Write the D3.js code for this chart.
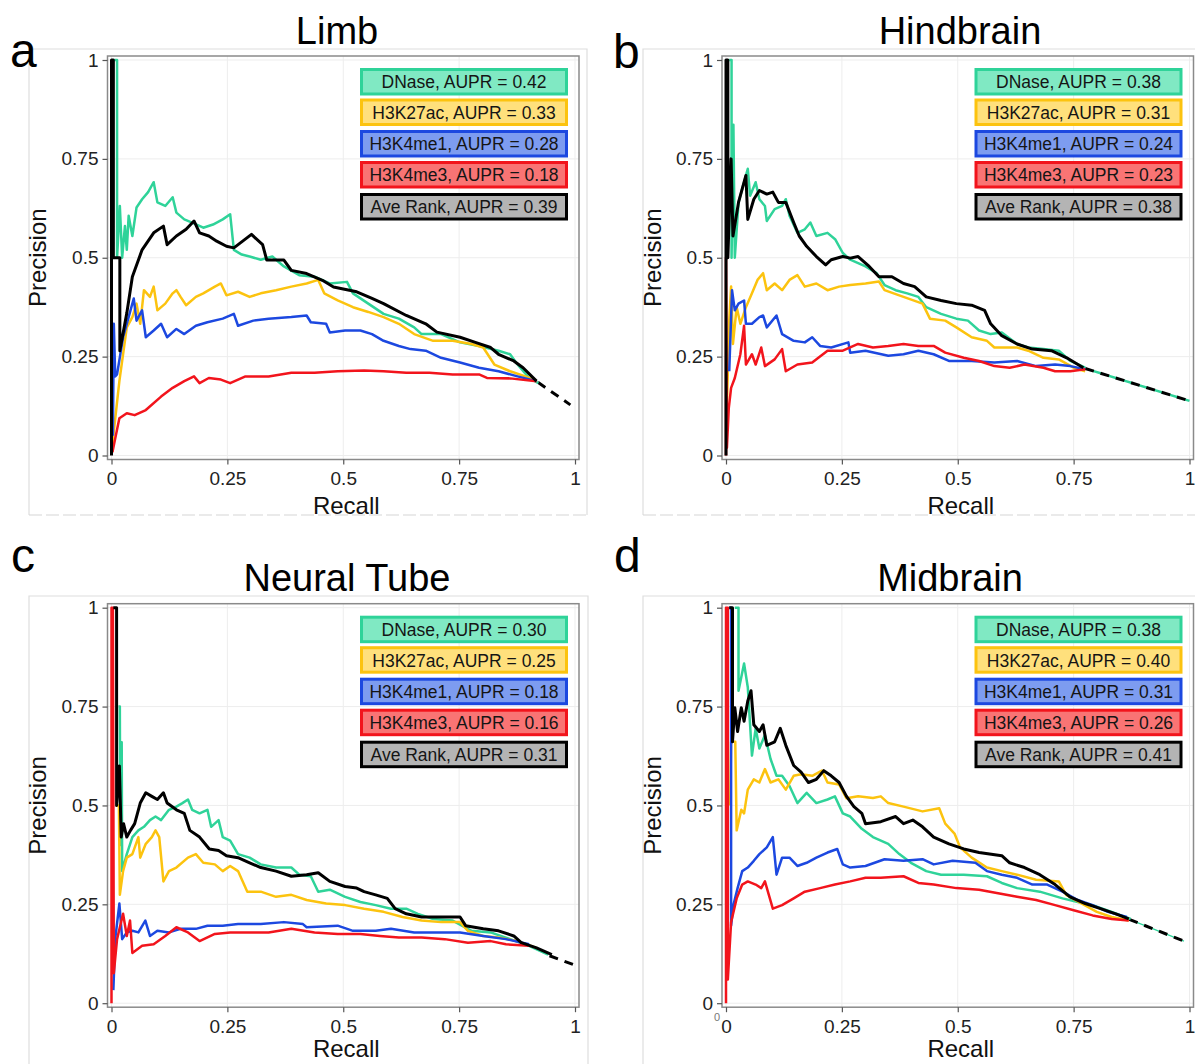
<!DOCTYPE html>
<html><head><meta charset="utf-8">
<script src="https://cdn.jsdelivr.net/npm/d3@7/dist/d3.min.js"></script>
<style>body{margin:0;background:#fff}svg{display:block}text{font-family:"Liberation Sans",Arial,sans-serif}</style>
</head><body>
<svg id="chart" width="1195" height="1064"></svg>
<script>
// ---------- DATA ----------
const panelTitles = ["Limb", "Hindbrain", "Neural Tube", "Midbrain"];
const panelLetters = ["a", "b", "c", "d"];
const seriesNames = ["DNase", "H3K27ac", "H3K4me1", "H3K4me3", "Ave Rank"];
const auprLimb = [0.42, 0.33, 0.28, 0.18, 0.39];
const auprHindbrain = [0.38, 0.31, 0.24, 0.23, 0.38];
const auprNeuralTube = [0.30, 0.25, 0.18, 0.16, 0.31];
const auprMidbrain = [0.38, 0.40, 0.31, 0.26, 0.41];
const tickValues = [0, 0.25, 0.5, 0.75, 1];
const tickLabels = ["0", "0.25", "0.5", "0.75", "1"];

const limbDNase = [[0.006,1],[0.012,1],[0.012,0.5],[0.018,0.631],[0.023,0.5],[0.029,0.58],[0.033,0.52],[0.037,0.606],[0.045,0.555],[0.054,0.627],[0.066,0.648],[0.079,0.666],[0.091,0.691],[0.099,0.64],[0.116,0.631],[0.132,0.653],[0.14,0.614],[0.157,0.597],[0.174,0.589],[0.198,0.576],[0.219,0.584],[0.24,0.597],[0.256,0.61],[0.264,0.52],[0.281,0.508],[0.298,0.503],[0.322,0.495],[0.347,0.503],[0.372,0.478],[0.405,0.456],[0.438,0.452],[0.471,0.435],[0.508,0.439],[0.521,0.41],[0.554,0.384],[0.587,0.358],[0.62,0.346],[0.653,0.324],[0.669,0.307],[0.711,0.307],[0.752,0.286],[0.793,0.277],[0.835,0.265],[0.86,0.256],[0.876,0.23],[0.901,0.196],[0.921,0.183]];
const limbH3K27ac = [[0.002,0.01],[0.004,0.05],[0.017,0.188],[0.033,0.324],[0.045,0.35],[0.054,0.384],[0.062,0.333],[0.07,0.418],[0.083,0.401],[0.091,0.427],[0.099,0.367],[0.116,0.384],[0.132,0.41],[0.14,0.418],[0.149,0.401],[0.161,0.38],[0.182,0.401],[0.198,0.41],[0.223,0.427],[0.236,0.435],[0.248,0.405],[0.273,0.414],[0.298,0.401],[0.322,0.41],[0.355,0.418],[0.388,0.427],[0.421,0.435],[0.446,0.444],[0.459,0.41],[0.488,0.392],[0.521,0.375],[0.554,0.363],[0.587,0.35],[0.62,0.333],[0.653,0.307],[0.694,0.29],[0.736,0.29],[0.777,0.282],[0.802,0.273],[0.826,0.23],[0.86,0.213],[0.893,0.2],[0.917,0.188]];
const limbH3K4me1 = [[0.003,0.05],[0.005,0.333],[0.008,0.2],[0.012,0.205],[0.025,0.299],[0.037,0.35],[0.048,0.397],[0.054,0.341],[0.066,0.367],[0.074,0.299],[0.091,0.316],[0.107,0.333],[0.12,0.299],[0.14,0.32],[0.157,0.307],[0.182,0.328],[0.207,0.337],[0.24,0.346],[0.264,0.358],[0.273,0.328],[0.306,0.341],[0.339,0.346],[0.388,0.35],[0.421,0.354],[0.43,0.337],[0.463,0.333],[0.471,0.311],[0.504,0.316],[0.537,0.316],[0.562,0.307],[0.587,0.29],[0.62,0.277],[0.645,0.269],[0.678,0.265],[0.711,0.247],[0.752,0.235],[0.793,0.222],[0.835,0.213],[0.876,0.2],[0.917,0.188]];
const limbH3K4me3 = [[0.002,0.008],[0.008,0.043],[0.017,0.094],[0.033,0.107],[0.05,0.102],[0.074,0.115],[0.107,0.149],[0.132,0.171],[0.157,0.188],[0.178,0.2],[0.19,0.183],[0.21,0.196],[0.236,0.192],[0.256,0.183],[0.289,0.2],[0.339,0.2],[0.388,0.209],[0.438,0.209],[0.488,0.213],[0.545,0.215],[0.587,0.213],[0.636,0.209],[0.686,0.209],[0.736,0.205],[0.793,0.205],[0.81,0.196],[0.86,0.195],[0.917,0.188]];
const limbAveRank = [[0,0],[0,1],[0.004,1],[0.004,0.5],[0.018,0.5],[0.018,0.265],[0.033,0.36],[0.045,0.452],[0.066,0.52],[0.091,0.563],[0.112,0.58],[0.12,0.533],[0.14,0.555],[0.161,0.572],[0.178,0.593],[0.19,0.563],[0.21,0.555],[0.227,0.542],[0.248,0.529],[0.264,0.525],[0.302,0.559],[0.326,0.533],[0.335,0.494],[0.372,0.494],[0.388,0.468],[0.421,0.46],[0.455,0.443],[0.479,0.426],[0.529,0.414],[0.562,0.397],[0.587,0.384],[0.636,0.354],[0.678,0.333],[0.702,0.312],[0.752,0.299],[0.785,0.286],[0.818,0.273],[0.835,0.256],[0.868,0.239],[0.888,0.222],[0.917,0.188]];
const limbTail = [[0.92,0.185],[0.99,0.128]];

const hindDNase = [[0.007,1],[0.012,1],[0.012,0.5],[0.016,0.836],[0.019,0.5],[0.027,0.64],[0.035,0.674],[0.047,0.725],[0.052,0.657],[0.064,0.691],[0.072,0.648],[0.084,0.631],[0.088,0.593],[0.105,0.623],[0.121,0.631],[0.129,0.648],[0.137,0.606],[0.154,0.563],[0.17,0.572],[0.182,0.589],[0.195,0.555],[0.219,0.563],[0.236,0.546],[0.252,0.512],[0.268,0.495],[0.301,0.478],[0.325,0.461],[0.342,0.431],[0.366,0.418],[0.391,0.41],[0.415,0.401],[0.432,0.375],[0.464,0.358],[0.497,0.346],[0.522,0.341],[0.546,0.316],[0.571,0.307],[0.595,0.311],[0.628,0.282],[0.652,0.273],[0.685,0.269],[0.718,0.265],[0.743,0.239],[0.775,0.222]];
const hindH3K27ac = [[0.002,0.128],[0.007,0.341],[0.011,0.427],[0.015,0.282],[0.023,0.375],[0.031,0.333],[0.043,0.375],[0.056,0.41],[0.068,0.444],[0.08,0.461],[0.088,0.418],[0.105,0.435],[0.121,0.418],[0.137,0.444],[0.154,0.456],[0.17,0.427],[0.195,0.435],[0.219,0.418],[0.244,0.427],[0.268,0.431],[0.301,0.435],[0.33,0.44],[0.342,0.418],[0.383,0.401],[0.424,0.384],[0.44,0.346],[0.473,0.341],[0.497,0.324],[0.53,0.299],[0.563,0.29],[0.579,0.273],[0.628,0.273],[0.652,0.265],[0.685,0.247],[0.718,0.243],[0.75,0.222],[0.775,0.213]];
const hindH3K4me1 = [[0.007,0.213],[0.013,0.418],[0.019,0.367],[0.027,0.384],[0.039,0.392],[0.043,0.333],[0.056,0.333],[0.072,0.35],[0.08,0.354],[0.088,0.324],[0.109,0.354],[0.121,0.307],[0.146,0.29],[0.17,0.286],[0.186,0.299],[0.203,0.277],[0.227,0.273],[0.264,0.286],[0.268,0.26],[0.301,0.265],[0.35,0.252],[0.383,0.256],[0.415,0.265],[0.448,0.256],[0.481,0.239],[0.53,0.239],[0.579,0.235],[0.628,0.239],[0.669,0.226],[0.71,0.23],[0.743,0.226],[0.775,0.218]];
const hindH3K4me3 = [[0,0],[0,0.5],[0.002,0.02],[0.006,0.12],[0.011,0.171],[0.019,0.196],[0.031,0.256],[0.039,0.328],[0.043,0.23],[0.056,0.256],[0.064,0.23],[0.076,0.273],[0.084,0.226],[0.105,0.243],[0.121,0.269],[0.129,0.213],[0.154,0.23],[0.186,0.235],[0.219,0.265],[0.252,0.265],[0.285,0.282],[0.317,0.273],[0.35,0.277],[0.383,0.282],[0.415,0.277],[0.448,0.277],[0.473,0.26],[0.513,0.247],[0.546,0.239],[0.579,0.226],[0.612,0.222],[0.644,0.23],[0.685,0.222],[0.71,0.213],[0.743,0.213],[0.775,0.218]];
const hindAveRank = [[0,0],[0,1],[0.004,1],[0.004,0.5],[0.011,0.75],[0.015,0.555],[0.027,0.64],[0.035,0.674],[0.043,0.708],[0.047,0.597],[0.06,0.648],[0.072,0.67],[0.088,0.661],[0.101,0.666],[0.113,0.64],[0.129,0.64],[0.146,0.589],[0.158,0.555],[0.174,0.529],[0.195,0.503],[0.215,0.482],[0.227,0.495],[0.252,0.503],[0.268,0.499],[0.285,0.503],[0.309,0.478],[0.33,0.452],[0.358,0.452],[0.383,0.435],[0.407,0.427],[0.432,0.401],[0.464,0.392],[0.497,0.384],[0.53,0.38],[0.558,0.367],[0.571,0.333],[0.595,0.303],[0.628,0.282],[0.661,0.269],[0.702,0.265],[0.735,0.247],[0.771,0.222]];
const hindTail = [[0.775,0.22],[1.0,0.138]];

const neuralDNase = [[0.015,0.75],[0.018,0.75],[0.019,0.4],[0.022,0.66],[0.023,0.334],[0.033,0.377],[0.045,0.42],[0.058,0.437],[0.07,0.446],[0.083,0.463],[0.095,0.472],[0.107,0.463],[0.124,0.489],[0.14,0.497],[0.153,0.506],[0.165,0.515],[0.174,0.489],[0.19,0.48],[0.207,0.489],[0.215,0.446],[0.231,0.463],[0.24,0.42],[0.256,0.411],[0.273,0.377],[0.298,0.368],[0.322,0.351],[0.355,0.343],[0.388,0.343],[0.405,0.325],[0.43,0.321],[0.446,0.282],[0.471,0.287],[0.504,0.269],[0.537,0.256],[0.57,0.248],[0.603,0.239],[0.636,0.239],[0.661,0.226],[0.694,0.213],[0.736,0.209],[0.777,0.183],[0.818,0.179],[0.86,0.162],[0.901,0.145],[0.942,0.123]];
const neuralH3K27ac = [[0.01,0.5],[0.016,0.5],[0.018,0.274],[0.025,0.334],[0.033,0.368],[0.045,0.377],[0.058,0.42],[0.062,0.368],[0.074,0.403],[0.087,0.42],[0.095,0.437],[0.103,0.42],[0.112,0.308],[0.124,0.334],[0.14,0.343],[0.165,0.368],[0.182,0.377],[0.198,0.355],[0.223,0.351],[0.24,0.334],[0.256,0.347],[0.273,0.334],[0.293,0.282],[0.322,0.282],[0.355,0.269],[0.388,0.274],[0.421,0.261],[0.463,0.252],[0.504,0.248],[0.545,0.239],[0.587,0.231],[0.628,0.218],[0.669,0.209],[0.711,0.205],[0.752,0.205],[0.769,0.183],[0.802,0.17],[0.835,0.166],[0.876,0.157],[0.917,0.14]];
const neuralH3K4me1 = [[0.004,0.033],[0.008,0.162],[0.017,0.252],[0.023,0.162],[0.033,0.179],[0.045,0.183],[0.058,0.179],[0.073,0.209],[0.083,0.17],[0.099,0.183],[0.124,0.179],[0.149,0.188],[0.182,0.188],[0.207,0.196],[0.24,0.196],[0.273,0.2],[0.322,0.2],[0.372,0.205],[0.413,0.2],[0.421,0.192],[0.488,0.196],[0.521,0.183],[0.57,0.183],[0.603,0.188],[0.653,0.179],[0.702,0.179],[0.752,0.179],[0.802,0.17],[0.851,0.162],[0.901,0.149]];
const neuralH3K4me3 = [[0,0],[0,1],[0.003,1],[0.005,0.076],[0.012,0.162],[0.025,0.226],[0.033,0.17],[0.04,0.209],[0.045,0.127],[0.066,0.145],[0.091,0.149],[0.116,0.17],[0.14,0.192],[0.165,0.179],[0.19,0.157],[0.223,0.175],[0.256,0.179],[0.289,0.179],[0.339,0.179],[0.388,0.188],[0.438,0.179],[0.488,0.175],[0.537,0.175],[0.579,0.17],[0.62,0.166],[0.669,0.166],[0.719,0.162],[0.769,0.153],[0.818,0.157],[0.851,0.149],[0.901,0.145]];
const neuralAveRank = [[0.004,1],[0.011,1],[0.011,0.5],[0.017,0.6],[0.021,0.42],[0.026,0.454],[0.033,0.42],[0.041,0.437],[0.05,0.454],[0.062,0.506],[0.074,0.532],[0.087,0.523],[0.099,0.515],[0.112,0.532],[0.12,0.506],[0.14,0.489],[0.157,0.48],[0.169,0.437],[0.19,0.42],[0.211,0.39],[0.231,0.386],[0.248,0.373],[0.273,0.368],[0.298,0.355],[0.322,0.343],[0.355,0.334],[0.388,0.321],[0.421,0.325],[0.446,0.33],[0.471,0.308],[0.504,0.295],[0.529,0.291],[0.545,0.282],[0.57,0.274],[0.595,0.265],[0.612,0.239],[0.636,0.226],[0.669,0.218],[0.711,0.218],[0.752,0.218],[0.764,0.196],[0.802,0.188],[0.835,0.183],[0.868,0.17],[0.884,0.153],[0.917,0.14],[0.95,0.123]];
const neuralTail = [[0.945,0.12],[1.0,0.096]];

const midDNase = [[0.019,1],[0.027,1],[0.027,0.79],[0.039,0.859],[0.047,0.799],[0.056,0.626],[0.064,0.695],[0.072,0.644],[0.084,0.678],[0.096,0.618],[0.109,0.575],[0.121,0.575],[0.137,0.549],[0.154,0.506],[0.174,0.532],[0.195,0.506],[0.219,0.515],[0.235,0.523],[0.252,0.48],[0.268,0.472],[0.293,0.441],[0.317,0.42],[0.35,0.403],[0.374,0.377],[0.399,0.355],[0.432,0.334],[0.464,0.325],[0.513,0.325],[0.563,0.321],[0.595,0.304],[0.628,0.291],[0.677,0.282],[0.726,0.265],[0.759,0.256],[0.791,0.248],[0.832,0.231],[0.873,0.213]];
const midH3K27ac = [[0.009,0.5],[0.011,0.661],[0.02,0.661],[0.023,0.437],[0.033,0.489],[0.039,0.48],[0.047,0.54],[0.06,0.566],[0.072,0.558],[0.084,0.592],[0.096,0.558],[0.113,0.566],[0.129,0.54],[0.146,0.575],[0.162,0.579],[0.186,0.575],[0.207,0.588],[0.219,0.558],[0.244,0.553],[0.26,0.518],[0.285,0.523],[0.317,0.519],[0.334,0.523],[0.35,0.506],[0.383,0.497],[0.424,0.485],[0.46,0.493],[0.473,0.454],[0.493,0.429],[0.505,0.394],[0.53,0.368],[0.563,0.343],[0.595,0.334],[0.628,0.325],[0.669,0.312],[0.718,0.308],[0.734,0.274],[0.767,0.252],[0.8,0.231],[0.832,0.218],[0.869,0.209]];
const midH3K4me1 = [[0.007,1],[0.011,1],[0.011,0.196],[0.016,0.248],[0.025,0.291],[0.035,0.334],[0.047,0.343],[0.06,0.36],[0.072,0.377],[0.088,0.394],[0.101,0.42],[0.109,0.325],[0.121,0.368],[0.137,0.368],[0.154,0.347],[0.174,0.355],[0.195,0.368],[0.219,0.381],[0.24,0.39],[0.252,0.351],[0.268,0.343],[0.301,0.347],[0.342,0.364],[0.383,0.36],[0.424,0.364],[0.448,0.351],[0.489,0.36],[0.538,0.355],[0.563,0.334],[0.595,0.325],[0.628,0.317],[0.661,0.3],[0.693,0.3],[0.726,0.282],[0.759,0.261],[0.791,0.248],[0.824,0.231],[0.865,0.218]];
const midH3K4me3 = [[0,0],[0,1],[0.004,1],[0.004,0.06],[0.011,0.205],[0.023,0.265],[0.035,0.3],[0.047,0.308],[0.064,0.3],[0.076,0.291],[0.084,0.308],[0.101,0.239],[0.121,0.248],[0.146,0.265],[0.17,0.282],[0.203,0.291],[0.235,0.3],[0.268,0.308],[0.301,0.317],[0.334,0.317],[0.383,0.321],[0.415,0.304],[0.448,0.3],[0.497,0.291],[0.546,0.287],[0.587,0.278],[0.628,0.269],[0.669,0.261],[0.71,0.248],[0.75,0.235],[0.791,0.222],[0.832,0.213],[0.869,0.209]];
const midAveRank = [[0.007,1],[0.014,1],[0.014,0.661],[0.019,0.747],[0.025,0.687],[0.033,0.747],[0.039,0.713],[0.047,0.764],[0.054,0.79],[0.06,0.704],[0.072,0.687],[0.08,0.704],[0.088,0.652],[0.105,0.661],[0.117,0.695],[0.129,0.652],[0.146,0.601],[0.162,0.584],[0.178,0.558],[0.195,0.566],[0.211,0.588],[0.227,0.575],[0.244,0.558],[0.26,0.523],[0.276,0.497],[0.293,0.48],[0.301,0.454],[0.334,0.459],[0.366,0.472],[0.383,0.454],[0.403,0.463],[0.424,0.446],[0.448,0.42],[0.481,0.403],[0.513,0.39],[0.546,0.381],[0.595,0.373],[0.612,0.355],[0.644,0.343],[0.677,0.325],[0.71,0.3],[0.742,0.269],[0.775,0.252],[0.808,0.239],[0.841,0.226],[0.869,0.213]];
const midTail = [[0.87,0.212],[0.988,0.157]];

// ---------- BUILD ----------
const panelsData = [
  {title: panelTitles[0], letter: panelLetters[0], aupr: auprLimb, series: [limbDNase, limbH3K27ac, limbH3K4me1, limbH3K4me3, limbAveRank], tail: limbTail},
  {title: panelTitles[1], letter: panelLetters[1], aupr: auprHindbrain, series: [hindDNase, hindH3K27ac, hindH3K4me1, hindH3K4me3, hindAveRank], tail: hindTail},
  {title: panelTitles[2], letter: panelLetters[2], aupr: auprNeuralTube, series: [neuralDNase, neuralH3K27ac, neuralH3K4me1, neuralH3K4me3, neuralAveRank], tail: neuralTail},
  {title: panelTitles[3], letter: panelLetters[3], aupr: auprMidbrain, series: [midDNase, midH3K27ac, midH3K4me1, midH3K4me3, midAveRank], tail: midTail}
];

const layout = [
  {x0: 111.5, yTop: 60, titleX: 337, titleY: 44, letterX: 10, letterY: 67, recallY: 514, frame: [29, 49, 587, 515]},
  {x0: 726, yTop: 60, titleX: 960, titleY: 44, letterX: 613, letterY: 68, recallY: 514, frame: [643, 49, 1200, 515]},
  {x0: 111.5, yTop: 607.7, titleX: 347, titleY: 591, letterX: 11, letterY: 572, recallY: 1057, frame: [29, 596, 588, 1070]},
  {x0: 726, yTop: 607.7, titleX: 950, titleY: 591, letterX: 614, letterY: 572, recallY: 1057, frame: [643, 596, 1200, 1070]}
];
const PW = 463.5, PH = 395.5, PAD = 4;
const lineColors = ["#2fd399", "#fcc30f", "#1c48e0", "#f2141c", "#000000"];
const fillColors = ["#80e9c3", "#ffe07c", "#7d9cf0", "#f97474", "#b4b4b4"];
const borderColors = ["#2fd399", "#fcc30f", "#1c48e0", "#f2141c", "#000000"];
const lineWidths = [2.5, 2.5, 2.5, 2.5, 3];

const svg = d3.select("#chart");
svg.append("rect").attr("width", 1195).attr("height", 1064).attr("fill", "#fff");

panelsData.forEach((p, i) => {
  const L = layout[i];
  const x = d3.scaleLinear().domain([0, 1]).range([L.x0, L.x0 + PW]);
  const y = d3.scaleLinear().domain([0, 1]).range([L.yTop + PH, L.yTop]);
  const left = x(0) - PAD, right = x(1) + PAD, top = y(1) - PAD, bottom = y(0) + PAD;
  const g = svg.append("g");

  // outer frame
  const f = L.frame;
  g.append("path").attr("d", `M${f[0]},${f[3]}V${f[1]}H${f[2]}V${f[3]}`).attr("fill", "none").attr("stroke", "#dedede").attr("stroke-width", 1.2);
  g.append("line").attr("x1", f[0]).attr("x2", f[2]).attr("y1", f[3]).attr("y2", f[3]).attr("stroke", "#d6d6d6").attr("stroke-width", 1.2).attr("stroke-dasharray", "13,4");

  // grid
  tickValues.forEach(t => {
    g.append("line").attr("x1", x(t)).attr("x2", x(t)).attr("y1", top).attr("y2", bottom).attr("stroke", "#ededed").attr("stroke-width", 1);
    g.append("line").attr("x1", left).attr("x2", right).attr("y1", y(t)).attr("y2", y(t)).attr("stroke", "#ededed").attr("stroke-width", 1);
  });

  // clip
  const cid = "clip" + i;
  svg.append("clipPath").attr("id", cid).append("rect").attr("x", left).attr("y", top).attr("width", right - left).attr("height", bottom - top);
  const plot = g.append("g").attr("clip-path", `url(#${cid})`);
  const line = d3.line().x(d => x(d[0])).y(d => y(d[1]));

  // tail (dashed extension)
  if (i === 1 || i === 3) {
    plot.append("path").attr("d", line(p.tail)).attr("fill", "none").attr("stroke", lineColors[0]).attr("stroke-width", i === 1 ? 2.5 : 1.2)
      .attr("stroke-dasharray", i === 1 ? "9,7" : null).attr("stroke-dashoffset", 8);
  }
  plot.append("path").attr("d", line(p.tail)).attr("fill", "none").attr("stroke", "#000").attr("stroke-width", 3).attr("stroke-dasharray", "9,7");

  p.series.forEach((s, k) => {
    plot.append("path").attr("d", line(s)).attr("fill", "none").attr("stroke", lineColors[k])
      .attr("stroke-width", lineWidths[k]).attr("stroke-linejoin", "round");
  });

  // border
  g.append("rect").attr("x", left).attr("y", top).attr("width", right - left).attr("height", bottom - top)
    .attr("fill", "none").attr("stroke", "#8a8a8a").attr("stroke-width", 1.5);

  // axes
  const fmt = v => tickLabels[tickValues.indexOf(v)];
  const ax = g.append("g").attr("transform", `translate(0,${bottom})`)
    .call(d3.axisBottom(x).tickValues(tickValues).tickFormat(fmt).tickSize(5).tickPadding(7.5));
  const ay = g.append("g").attr("transform", `translate(${left},0)`)
    .call(d3.axisLeft(y).tickValues(tickValues).tickFormat(fmt).tickSize(5).tickPadding(4));
  [ax, ay].forEach(a => {
    a.select(".domain").remove();
    a.selectAll("line").attr("stroke", "#555").attr("stroke-width", 1.2);
    a.selectAll("text").attr("fill", "#222").style("font-size", "19px").style("font-family", '"Liberation Sans", Arial, sans-serif');
  });

  // axis titles
  g.append("text").attr("x", x(0.5) + 3).attr("y", L.recallY).attr("text-anchor", "middle")
    .style("font-size", "24px").attr("fill", "#111").text("Recall");
  g.append("text").attr("transform", `translate(${L.x0 - 65.5},${y(0.5)}) rotate(-90)`).attr("text-anchor", "middle")
    .style("font-size", "24px").attr("fill", "#111").text("Precision");

  // title and letter
  g.append("text").attr("x", L.titleX).attr("y", L.titleY).attr("text-anchor", "middle").style("font-size", "38px").attr("fill", "#000").text(p.title);
  g.append("text").attr("x", L.letterX).attr("y", L.letterY).style("font-size", "48px").attr("fill", "#000").text(p.letter);

  // legend
  const legLeft = L.x0 + 248.5;
  const legTops = [8, 38.5, 70, 101, 133];
  seriesNames.forEach((name, k) => {
    const ty = L.yTop + legTops[k];
    g.append("rect").attr("x", legLeft + 1.5).attr("y", ty + 1.5).attr("width", 205).attr("height", 24.5)
      .attr("fill", fillColors[k]).attr("stroke", borderColors[k]).attr("stroke-width", 3);
    g.append("text").attr("x", legLeft + 104).attr("y", ty + 14).attr("dy", "0.36em").attr("text-anchor", "middle")
      .style("font-size", "17.5px").attr("fill", "#151515").text(`${name}, AUPR = ${p.aupr[k].toFixed(2)}`);
  });
});

// small stray label near the origin of panel d
svg.append("text").attr("x", 714).attr("y", 1021).style("font-size", "11px").attr("fill", "#777").text("0");
</script>
</body></html>
